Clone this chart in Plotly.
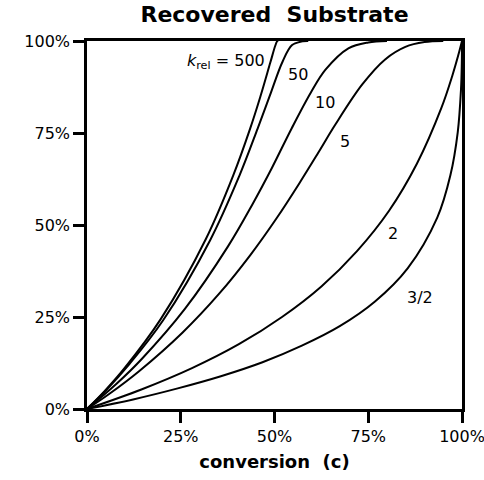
import plotly.graph_objects as go

# conversion c (fraction) and ee of recovered substrate (fraction)
c_500 = [0, 0.048, 0.10, 0.197, 0.317, 0.390, 0.435, 0.462, 0.489, 0.502, 0.507, 0.510]
ee_500 = [0, 0.050, 0.111, 0.245, 0.462, 0.635, 0.762, 0.848, 0.942, 0.987, 0.999, 1.0]

c_50 = [0, 0.049, 0.113, 0.203, 0.328, 0.406, 0.455, 0.487, 0.522, 0.547, 0.575, 0.590]
ee_50 = [0, 0.049, 0.122, 0.241, 0.458, 0.633, 0.762, 0.850, 0.945, 0.989, 0.999, 1.0]

c_10 = [0, 0.078, 0.146, 0.261, 0.376, 0.441, 0.493, 0.546, 0.597, 0.636, 0.697, 0.750, 0.800]
ee_10 = [0, 0.068, 0.136, 0.272, 0.442, 0.556, 0.655, 0.763, 0.860, 0.922, 0.980, 0.996, 1.0]

c_5 = [0, 0.058, 0.138, 0.255, 0.353, 0.436, 0.506, 0.566, 0.617, 0.661, 0.734, 0.795, 0.849, 0.900, 0.950]
ee_5 = [0, 0.040, 0.102, 0.208, 0.314, 0.419, 0.519, 0.613, 0.697, 0.771, 0.882, 0.950, 0.984, 0.997, 1.0]

c_2 = [0, 0.145, 0.280, 0.405, 0.520, 0.625, 0.720, 0.805, 0.880, 0.945, 0.974, 0.990, 1.0]
ee_2 = [0, 0.053, 0.111, 0.176, 0.250, 0.333, 0.429, 0.538, 0.667, 0.818, 0.905, 0.961, 1.0]

c_15 = [0, 0.123, 0.242, 0.357, 0.468, 0.573, 0.674, 0.768, 0.855, 0.934, 0.969, 0.9886, 0.9973, 0.9995, 1.0]
ee_15 = [0, 0.026, 0.056, 0.089, 0.127, 0.172, 0.225, 0.292, 0.382, 0.520, 0.635, 0.752, 0.868, 0.939, 1.0]

series = [(c_500, ee_500), (c_50, ee_50), (c_10, ee_10), (c_5, ee_5), (c_2, ee_2), (c_15, ee_15)]

# curve labels: text, c, ee
label_texts = ["<i>k</i><sub>rel</sub> = 500", "50", "10", "5", "2", "3/2"]
label_c = [0.48, 0.563, 0.635, 0.688, 0.816, 0.888]
label_ee = [0.943, 0.910, 0.832, 0.726, 0.478, 0.304]
label_anchor = ["right", "center", "center", "center", "center", "center"]

tick_vals = [0, 0.25, 0.5, 0.75, 1.0]
tick_text = ["0%", "25%", "50%", "75%", "100%"]

fig = go.Figure()
for cx, ey in series:
    fig.add_trace(go.Scatter(x=cx, y=ey, mode="lines",
                             line=dict(color="black", width=2, shape="spline"),
                             showlegend=False, hoverinfo="skip"))

for t, xv, yv, an in zip(label_texts, label_c, label_ee, label_anchor):
    fig.add_annotation(x=xv, y=yv, text=t, showarrow=False, xanchor=an, yanchor="middle",
                       font=dict(family="DejaVu Sans", size=16, color="black"))

axis_common = dict(range=[0, 1], tickvals=tick_vals, ticktext=tick_text,
                   showline=True, linecolor="black", linewidth=2.5, mirror=True,
                   ticks="outside", ticklen=11, tickwidth=2.5, tickcolor="black",
                   showgrid=False, zeroline=False, ticklabeloverflow="allow",
                   automargin=False,
                   tickfont=dict(family="DejaVu Sans", size=16, color="black"))

fig.update_xaxes(**axis_common,
                 title=dict(text="<b>conversion  (c)</b>", standoff=11,
                            font=dict(family="DejaVu Sans", size=18, color="black")))
fig.update_yaxes(**axis_common)

W, H = 484, 480
fig.update_layout(
    width=W, height=H,
    margin=dict(l=87, r=22, t=41, b=71, autoexpand=False),
    plot_bgcolor="white", paper_bgcolor="white",
    title=dict(text="<b>Recovered  Substrate</b>", x=(87 + 462) / 2 / W, xref="container",
               xanchor="center", y=1 - 7 / H, yref="container", yanchor="top",
               pad=dict(t=0, b=0),
               font=dict(family="DejaVu Sans", size=22, color="black")),
)

fig.write_html("out.html", config={"displayModeBar": False},
               post_script="document.body.style.margin='0';document.body.style.overflow='hidden';")
